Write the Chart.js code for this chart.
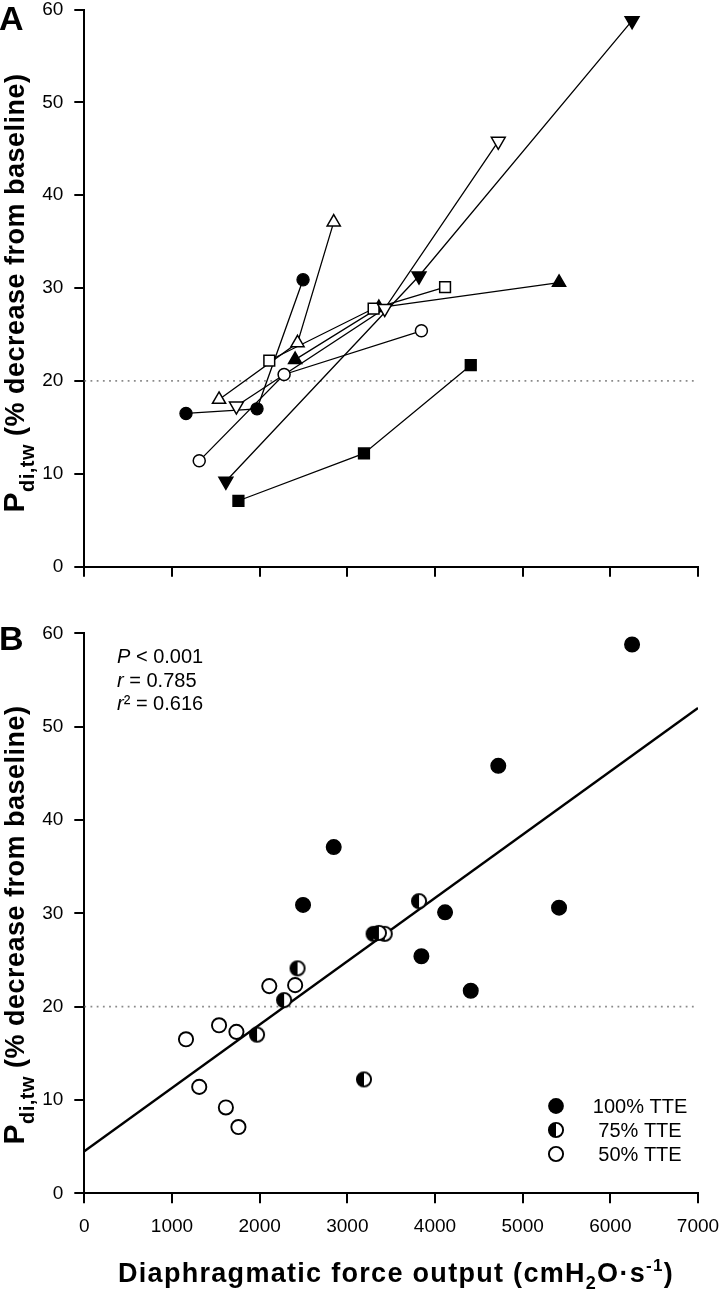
<!DOCTYPE html>
<html><head><meta charset="utf-8">
<script src="https://cdn.jsdelivr.net/npm/chart.js@4.4.0/dist/chart.umd.min.js"></script>
<style>
html,body{margin:0;padding:0;background:#fff;width:720px;height:1294px;overflow:hidden;}
#wrapA{position:absolute;left:0;top:0;width:720px;height:600px;}
#wrapB{position:absolute;left:0;top:600px;width:720px;height:694px;}
canvas{display:block;}
</style></head><body>
<div id="wrapA"><canvas id="chartA" width="720" height="600"></canvas></div>
<div id="wrapB"><canvas id="chartB" width="720" height="694"></canvas></div>
<script>
// ---------------- DATA ----------------
// one entry per subject (8 subjects), at 50 %, 75 % and 100 % of time to task failure
const force50  = [1160, 1537, 1735, 1615, 2110, 2405, 1311, 1758];
const force75  = [1970, 2432, 3427, 3818, 3300, 3360, 2279, 3190];
const force100 = [2495, 2845, 4722, 6248, 4115, 5415, 3845, 4408];
const pdi50    = [16.5, 18.0, 17.3, 9.2, 22.2, 22.3, 11.4, 7.1];
const pdi75    = [17.0, 24.1, 27.8, 31.3, 27.8, 27.9, 20.7, 12.2];
const pdi100   = [30.9, 37.1, 45.8, 58.8, 30.1, 30.6, 25.4, 21.7];
const subjectMarkers = ['circle', 'triangle', 'triangleDown', 'triangleDown', 'rect', 'triangle', 'circle', 'rect'];
const subjectFilled  = [true, false, false, true, false, true, false, true];
const groupLabels = ['100% TTE', '75% TTE', '50% TTE'];
const fitX = [0, 7000];
const fitY = [4.5, 52.0];
const refLineY = 20;
const xTicks = [0, 1000, 2000, 3000, 4000, 5000, 6000, 7000];
const yTicks = [0, 10, 20, 30, 40, 50, 60];
const statsText = [['P', ' < 0.001'], ['r', ' = 0.785'], ['r', '\u00B2 = 0.616']];

// ---------------- HELPERS ----------------
const FAM = "'Liberation Sans', Arial, Helvetica, sans-serif";
function pts(xs, ys) { return xs.map((x, i) => ({x: x, y: ys[i]})); }

function makeHalf(r, bw) {
  const s = 22; const c = document.createElement('canvas'); c.width = s; c.height = s;
  const g = c.getContext('2d'); const cx = s / 2, cy = s / 2;
  g.fillStyle = '#fff'; g.beginPath(); g.arc(cx, cy, r, 0, 2 * Math.PI); g.fill();
  g.fillStyle = '#000'; g.beginPath(); g.moveTo(cx, cy); g.arc(cx, cy, r, Math.PI / 2, 3 * Math.PI / 2); g.closePath(); g.fill();
  g.lineWidth = bw; g.strokeStyle = '#000'; g.beginPath(); g.arc(cx, cy, r, 0, 2 * Math.PI); g.stroke();
  return c;
}
const halfImg = makeHalf(7.1, 1.9);

function drawRich(ctx, segs, x, y, align, spacing) {
  ctx.save();
  ctx.letterSpacing = (spacing || 0) + 'px';
  let total = 0;
  segs.forEach(s => { ctx.font = s.font; s.w = ctx.measureText(s.t).width; total += s.w; });
  let cx = align === 'center' ? x - total / 2 : (align === 'right' ? x - total : x);
  ctx.textAlign = 'left'; ctx.textBaseline = 'alphabetic'; ctx.fillStyle = '#000';
  segs.forEach(s => { ctx.font = s.font; ctx.fillText(s.t, cx, y + (s.dy || 0)); cx += s.w; });
  ctx.restore();
}
function yTitleSegs() {
  return [
    {t: 'P', font: 'bold 30px ' + FAM},
    {t: 'di,tw', font: 'bold 20px ' + FAM, dy: 10},
    {t: ' (% decrease from baseline)', font: 'bold 27px ' + FAM}
  ];
}
function drawYTitle(ctx, cx, cy) {
  ctx.save(); ctx.translate(cx, cy); ctx.rotate(-Math.PI / 2);
  drawRich(ctx, yTitleSegs(), 0, 0, 'center', 0.5);
  ctx.restore();
}

function scaleOpts(axis, withLabels, sizeFn) {
  return {
    type: 'linear',
    min: axis === 'x' ? xTicks[0] : yTicks[0],
    max: axis === 'x' ? xTicks[xTicks.length - 1] : yTicks[yTicks.length - 1],
    afterBuildTicks: s => { s.ticks = (axis === 'x' ? xTicks : yTicks).map(v => ({value: v})); },
    ticks: {
      color: '#000',
      font: {family: FAM, size: 19, lineHeight: 1.2},
      padding: axis === 'x' ? 12 : 11,
      maxRotation: 0, autoSkip: false,
      callback: v => withLabels ? String(v) : ''
    },
    grid: {display: true, drawOnChartArea: false, drawTicks: true, tickLength: 10, color: '#000', lineWidth: 2},
    border: {display: true, color: '#000', width: 2},
    afterFit: s => {
      sizeFn(s);
      s.paddingLeft = 0; s.paddingRight = 0; s.paddingTop = 0; s.paddingBottom = 0;
    }
  };
}

const baseOptions = {
  responsive: false, animation: false,
  plugins: {legend: {display: false}, tooltip: {enabled: false}},
  elements: {line: {tension: 0}}
};

// ---------------- PANEL A ----------------
const dsA = [];
dsA.push({
  data: pts([xTicks[0], xTicks[xTicks.length - 1]], [refLineY, refLineY]),
  showLine: true, pointRadius: 0, borderColor: '#8a8a8a', borderWidth: 1.8, borderDash: [1.8, 4.4], order: 5
});
for (let i = 0; i < force50.length; i++) {
  const d = pts([force50[i], force75[i], force100[i]], [pdi50[i], pdi75[i], pdi100[i]]);
  dsA.push({data: d, showLine: true, pointRadius: 0, borderColor: '#000', borderWidth: 1.3, order: 3});
}
for (let i = 0; i < force50.length; i++) {
  const d = pts([force50[i], force75[i], force100[i]], [pdi50[i], pdi75[i], pdi100[i]]);
  const m = subjectMarkers[i];
  let style = m, rot = 0, r = 6, bw = 1.5;
  if (m === 'triangleDown') { style = 'triangle'; rot = 180; }
  if (m === 'triangle') { r = 7.6; }
  if (m === 'triangleDown') { r = 8; }
  if (m === 'rect') { r = 7.6; }
  if (m === 'circle' && subjectFilled[i]) { r = 6.1; bw = 1.2; }
  dsA.push({
    data: d, showLine: false, clip: false,
    pointStyle: style, rotation: rot, pointRotation: rot, pointRadius: r, pointBorderWidth: bw,
    pointBorderColor: '#000', pointBackgroundColor: subjectFilled[i] ? '#000' : '#fff', order: 1
  });
}

const textA = {
  id: 'textA',
  afterDraw(chart) {
    const ctx = chart.ctx;
    drawRich(ctx, [{t: 'A', font: 'bold 34px ' + FAM}], -1, 29.5, 'left', 0);
    drawYTitle(ctx, 24, 293);
  }
};

new Chart(document.getElementById('chartA'), {
  type: 'scatter',
  data: {datasets: dsA},
  options: {
    ...baseOptions,
    layout: {padding: {top: 7, right: 22, left: 0, bottom: 0}},
    scales: {
      x: scaleOpts('x', false, s => { s.height = 33.3; }),
      y: scaleOpts('y', true, s => { s.width = 84.3; })
    }
  },
  plugins: [textA]
});

// ---------------- PANEL B ----------------
const dsB = [
  {data: pts([xTicks[0], xTicks[xTicks.length - 1]], [refLineY, refLineY]),
   showLine: true, pointRadius: 0, borderColor: '#8a8a8a', borderWidth: 1.8, borderDash: [1.8, 4.4], order: 5},
  {data: pts(fitX, fitY), showLine: true, pointRadius: 0, borderColor: '#000', borderWidth: 2.4, order: 4},
  {label: groupLabels[2], data: pts(force50, pdi50), showLine: false, clip: false, pointStyle: 'circle',
   pointRadius: 7.1, pointBorderWidth: 1.9, pointBorderColor: '#000', pointBackgroundColor: '#fff', order: 3},
  {label: groupLabels[1], data: pts(force75, pdi75), showLine: false, clip: false, pointStyle: halfImg,
   pointRadius: 8, order: 2},
  {label: groupLabels[0], data: pts(force100, pdi100), showLine: false, clip: false, pointStyle: 'circle',
   pointRadius: 7.3, pointBorderWidth: 1.4, pointBorderColor: '#000', pointBackgroundColor: '#000', order: 1}
];

const textB = {
  id: 'textB',
  afterDraw(chart) {
    const ctx = chart.ctx;
    drawRich(ctx, [{t: 'B', font: 'bold 34px ' + FAM}], -1, 50, 'left', 0);
    drawYTitle(ctx, 24, 325);
    // x title
    drawRich(ctx, [
      {t: 'Diaphragmatic force output (cmH', font: 'bold 27px ' + FAM},
      {t: '2', font: 'bold 18px ' + FAM, dy: 7},
      {t: 'O\u00B7s', font: 'bold 27px ' + FAM},
      {t: '-1', font: 'bold 17px ' + FAM, dy: -11},
      {t: ')', font: 'bold 27px ' + FAM}
    ], 396, 681.7, 'center', 1.3);
    // statistics
    const base = [63, 87, 110];
    statsText.forEach((row, i) => {
      drawRich(ctx, [
        {t: row[0], font: 'italic 20px ' + FAM},
        {t: row[1], font: '20px ' + FAM}
      ], 117, base[i], 'left', 0);
    });
    // legend
    const ly = [506, 530, 554];
    ctx.save();
    ctx.fillStyle = '#000'; ctx.beginPath(); ctx.arc(556, ly[0], 7.9, 0, 2 * Math.PI); ctx.fill();
    ctx.drawImage(halfImg, 556 - halfImg.width / 2, ly[1] - halfImg.height / 2);
    ctx.fillStyle = '#fff'; ctx.strokeStyle = '#000'; ctx.lineWidth = 1.9;
    ctx.beginPath(); ctx.arc(556, ly[2], 7.1, 0, 2 * Math.PI); ctx.fill(); ctx.stroke();
    ctx.restore();
    const tb = [512.7, 536.7, 561];
    groupLabels.forEach((g, i) => drawRich(ctx, [{t: g, font: '20px ' + FAM}], 640, tb[i], 'center', 0));
  }
};

new Chart(document.getElementById('chartB'), {
  type: 'scatter',
  data: {datasets: dsB},
  options: {
    ...baseOptions,
    layout: {padding: {top: 33.3, right: 22, left: 0, bottom: 0}},
    scales: {
      x: scaleOpts('x', true, s => { s.height = 100.7; }),
      y: scaleOpts('y', true, s => { s.width = 84.3; })
    }
  },
  plugins: [textB]
});
</script>
</body></html>
